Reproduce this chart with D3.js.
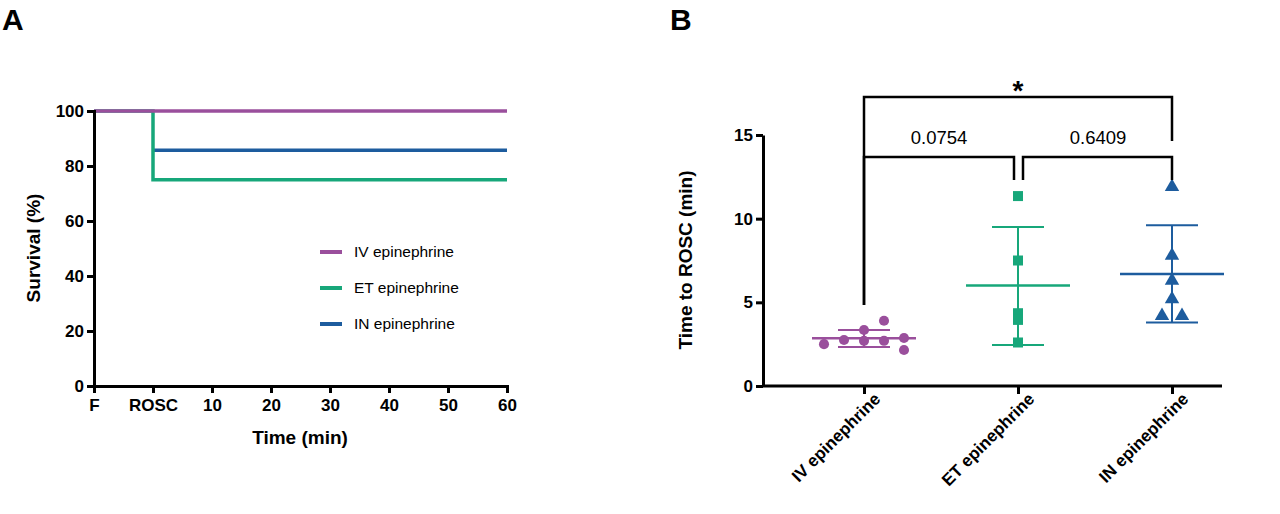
<!DOCTYPE html>
<html><head><meta charset="utf-8">
<script src="https://cdn.jsdelivr.net/npm/d3@7"></script>
<style>body{margin:0;background:#fff}text{font-family:Arial,"Liberation Sans",sans-serif}</style>
</head><body>
<svg id="c" width="1280" height="514"></svg>
<script>
// panel A: survival curves
const groups = ["IV epinephrine", "ET epinephrine", "IN epinephrine"];
const colors = ["#9a4f9c", "#17a77a", "#1d5c9e"];
const timesIV = [-10, 60];            // F = -10, ROSC = 0
const survIV = [100, 100];
const timesET = [-10, 0, 0, 60];
const survET = [100, 100, 75, 75];
const timesIN = [0, 60];
const survIN = [85.7, 85.7];
const xTickVals = [-10, 0, 10, 20, 30, 40, 50, 60];
const xTickLabels = ["F", "ROSC", "10", "20", "30", "40", "50", "60"];

// panel B: time to ROSC
const rosIV = [2.5, 2.75, 3.35, 2.7, 3.9, 2.7, 2.87, 2.15];
const rosIVdx = [-40, -20, 0, 0, 20, 20, 40, 40];
const rosET = [11.35, 7.5, 4.35, 3.95, 2.6];
const rosETdx = [0, 0, 0, 0, 0];
const rosIN = [11.9, 7.8, 6.3, 5.2, 4.2, 4.2];
const rosINdx = [0, 0, 0, 0, -10, 10];
const rosMean = [2.85, 6.0, 6.7];
const rosLo = [2.33, 2.45, 3.8];
const rosHi = [3.35, 9.5, 9.6];

const svg = d3.select("#c");

svg.append("text").attr("x", 2).attr("y", 30).attr("font-size", 30).attr("font-weight", "bold").text("A");
svg.append("text").attr("x", 670).attr("y", 30).attr("font-size", 30).attr("font-weight", "bold").text("B");

// ---- A ----
const xA = d3.scaleLinear().domain([-10, 60]).range([94, 507]);
const yA = d3.scaleLinear().domain([0, 100]).range([386, 111]);
const gA = svg.append("g");
// draw IN, ET, then IV on top
[[timesIN, survIN, 2], [timesET, survET, 1], [timesIV, survIV, 0]].forEach(([t, s, i]) => {
  const pts = t.map((tt, k) => [xA(tt), yA(s[k])]);
  gA.append("path").attr("d", d3.line()(pts)).attr("fill", "none")
    .attr("stroke", colors[i]).attr("stroke-width", 3.5);
});
const axA = gA.append("g").attr("transform", "translate(0,386)")
  .call(d3.axisBottom(xA).tickValues(xTickVals).tickFormat((d, i) => xTickLabels[i]).tickSizeOuter(0).tickSize(7));
const ayA = gA.append("g").attr("transform", "translate(94,0)")
  .call(d3.axisLeft(yA).tickValues([0, 20, 40, 60, 80, 100]).tickSizeOuter(0).tickSize(7));
[axA, ayA].forEach(a => {
  a.selectAll("path,line").attr("stroke", "#000").attr("stroke-width", 3);
  a.selectAll("text").attr("font-size", 17).attr("font-weight", "bold").attr("fill", "#000");
});
axA.selectAll("text").attr("dy", "0.9em");
gA.append("text").attr("x", 300).attr("y", 444).attr("text-anchor", "middle")
  .attr("font-size", 19).attr("font-weight", "bold").text("Time (min)");
gA.append("text").attr("transform", "translate(40,248) rotate(-90)").attr("text-anchor", "middle")
  .attr("font-size", 19).attr("font-weight", "bold").text("Survival (%)");
groups.forEach((g, i) => {
  const y = 252 + i * 36;
  gA.append("line").attr("x1", 320).attr("x2", 342).attr("y1", y).attr("y2", y)
    .attr("stroke", colors[i]).attr("stroke-width", 4);
  gA.append("text").attr("x", 354).attr("y", y + 5).attr("font-size", 15.5).text(g);
});

// ---- B ----
const xB = d3.scalePoint().domain(groups).range([864, 1172]);
const yB = d3.scaleLinear().domain([0, 15]).range([386, 135]);
const gB = svg.append("g");
const axB = gB.append("g").attr("transform", "translate(0,386)")
  .call(d3.axisBottom(xB).tickSize(8).tickSizeOuter(0));
axB.select(".domain").attr("d", "M763,0H1222");
const ayB = gB.append("g").attr("transform", "translate(763,0)")
  .call(d3.axisLeft(yB).tickValues([0, 5, 10, 15]).tickSize(7).tickSizeOuter(0));
[axB, ayB].forEach(a => {
  a.selectAll("path,line").attr("stroke", "#000").attr("stroke-width", 3);
  a.selectAll("text").attr("font-size", 17).attr("font-weight", "bold").attr("fill", "#000");
});
axB.selectAll("text").attr("text-anchor", "end").attr("dy", 0).attr("y", 22).attr("x", 2)
  .attr("transform", "rotate(-45)");
gB.append("text").attr("transform", "translate(692,260) rotate(-90)").attr("text-anchor", "middle")
  .attr("font-size", 19).attr("font-weight", "bold").text("Time to ROSC (min)");

// error bars
groups.forEach((g, i) => {
  const cx = xB(g), c = colors[i];
  const ln = (x1, x2, y1, y2, w) => gB.append("line").attr("x1", x1).attr("x2", x2)
    .attr("y1", y1).attr("y2", y2).attr("stroke", c).attr("stroke-width", w);
  ln(cx, cx, yB(rosLo[i]), yB(rosHi[i]), 2);
  ln(cx - 26, cx + 26, yB(rosLo[i]), yB(rosLo[i]), 2);
  ln(cx - 26, cx + 26, yB(rosHi[i]), yB(rosHi[i]), 2);
  ln(cx - 52, cx + 52, yB(rosMean[i]), yB(rosMean[i]), 2.5);
});
const sym = [d3.symbolCircle, d3.symbolSquare, d3.symbolTriangle];
const sizes = [80, 100, 90];
[[rosIV, rosIVdx], [rosET, rosETdx], [rosIN, rosINdx]].forEach(([vals, dx], i) => {
  gB.selectAll(null).data(vals).join("path")
    .attr("d", d3.symbol(sym[i], sizes[i]))
    .attr("transform", (d, k) => `translate(${xB(groups[i]) + dx[k]},${yB(d)})`)
    .attr("fill", colors[i]);
});

// significance brackets
const br = (x1, x2, yTop, y1b, y2b) => gB.append("path")
  .attr("d", `M${x1},${y1b}V${yTop}H${x2}V${y2b}`).attr("fill", "none")
  .attr("stroke", "#000").attr("stroke-width", 2.5);
br(864, 1172, 97, 305, 141);
br(864, 1014, 157, 305, 180);
br(1023, 1172, 157, 180, 180);
gB.append("text").attr("x", 1018).attr("y", 100).attr("text-anchor", "middle")
  .attr("font-size", 28).attr("font-weight", "bold").text("*");
gB.append("text").attr("x", 939).attr("y", 144).attr("text-anchor", "middle").attr("font-size", 18.5).text("0.0754");
gB.append("text").attr("x", 1098).attr("y", 144).attr("text-anchor", "middle").attr("font-size", 18.5).text("0.6409");
</script>
</body></html>
